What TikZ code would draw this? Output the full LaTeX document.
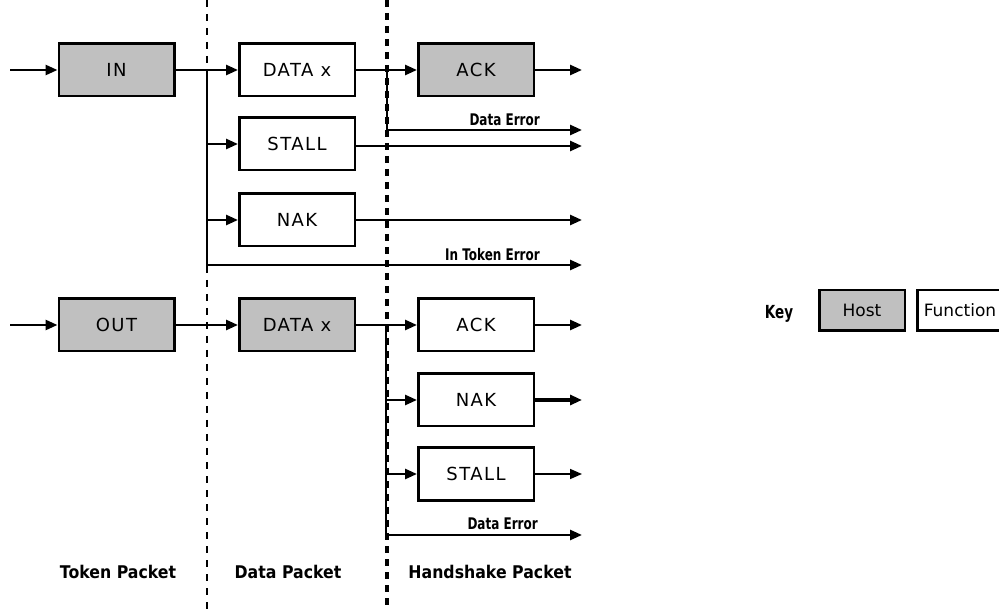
\documentclass[tikz,border=0pt]{standalone}
\usepackage{fontspec}
\setmainfont{DejaVu Sans}
\newfontfamily\boxfont[LetterSpace=8]{DejaVu Sans}
\newfontfamily\labfont[FakeStretch=0.75]{DejaVu Sans}
\newfontfamily\colfont[FakeStretch=0.9]{DejaVu Sans}
\usetikzlibrary{arrows.meta}
\definecolor{hostgray}{RGB}{192,192,192}
\begin{document}
\begin{tikzpicture}[x=1pt,y=-1pt,
  box/.style={draw, line width=2.5pt, minimum width=115.5pt, minimum height=52.5pt, inner sep=0pt, font=\boxfont\fontsize{18}{18}\selectfont},
  host/.style={box, fill=hostgray},
  fn/.style={box, fill=white},
  keybox/.style={draw, line width=2.5pt, minimum width=85.5pt, minimum height=40.5pt, inner sep=0pt, font=\fontsize{17}{17}\selectfont},
  arr/.style={line width=2.6pt, -{Triangle[length=12pt,width=10pt]}},
  lab/.style={font=\labfont\bfseries\fontsize{16}{16}\selectfont, inner sep=0pt, anchor=south east},
  col/.style={font=\colfont\bfseries\fontsize{17.5}{17.5}\selectfont, inner sep=0pt},
  sepA/.style={line width=2pt, dash pattern=on 7pt off 7pt},
  sepB/.style={line width=4pt, dash pattern=on 7pt off 6pt}]
\useasboundingbox (0,0) rectangle (999,609);
\fill[white] (0,0) rectangle (999,609);

% separators
\coordinate (s1t) at (207,0); \coordinate (s1b) at (207,609);
\coordinate (s2t) at (387,0); \coordinate (s2b) at (387,609);
\draw[sepA] (s1t) -- (s1b);
\draw[sepB] (s2t) -- (s2b);

% boxes
\node[host] (in)     at (116.5,70)  {IN};
\node[fn]   (dataA)  at (297,70)    {DATA x};
\node[fn]   (stallA) at (297,144)   {STALL};
\node[fn]   (nakA)   at (297,220)   {NAK};
\node[host] (ackA)   at (476,70)    {ACK};
\node[host] (out)    at (116.5,325) {OUT};
\node[host] (dataB)  at (297,325)   {DATA x};
\node[fn]   (ackB)   at (476,325)   {ACK};
\node[fn]   (nakB)   at (476,400)   {NAK};
\node[fn]   (stallB) at (476,474)   {STALL};

% coordinates
\coordinate (start1) at (10,70);
\coordinate (start2) at (10,325);
\coordinate (j1) at (207,70);
\coordinate (j2) at (387,70);
\coordinate (j3) at (386,325);
\coordinate (endAck) at (582,70);
\coordinate (derr1) at (582,130);
\coordinate (endStall) at (582,146);
\coordinate (endNak) at (582,220);
\coordinate (tokerr) at (582,265);
\coordinate (endAckB) at (582,325);
\coordinate (endNakB) at (582,400);
\coordinate (endStallB) at (582,474);
\coordinate (derr2) at (582,535);

% top (IN) transaction
\draw[arr] (start1) -- (in.west);
\draw[arr] (in.east) -- (dataA.west);
\draw[arr] (j1) |- (tokerr);
\draw[arr] (j1 |- stallA.west) -- (stallA.west);
\draw[arr] (j1 |- nakA.west) -- (nakA.west);
\draw[arr] (dataA.east) -- (ackA.west);
\draw[arr] (j2) |- (derr1);
\draw[arr] (ackA.east) -- (endAck);
\draw[arr] (stallA.east |- endStall) -- (endStall);
\draw[arr] (nakA.east) -- (endNak);
\node[lab] (lderr1) at (540,126) {Data Error};
\node[lab] (ltok) at (540,261) {In Token Error};

% bottom (OUT) transaction
\draw[arr] (start2) -- (out.west);
\draw[arr] (out.east) -- (dataB.west);
\draw[arr] (dataB.east) -- (ackB.west);
\draw[arr] (j3) |- (derr2);
\draw[arr] (j3 |- nakB.west) -- (nakB.west);
\draw[arr] (j3 |- stallB.west) -- (stallB.west);
\draw[arr] (ackB.east) -- (endAckB);
\draw[arr, line width=3.4pt] (nakB.east) -- (endNakB);
\draw[arr, line width=1.6pt] (stallB.east) -- (endStallB);
\node[lab] (lderr2) at (538,530) {Data Error};

% column labels
\node[col] (c1) at (118,572) {Token Packet};
\node[col] (c2) at (288,572) {Data Packet};
\node[col] (c3) at (490,572) {Handshake Packet};

% key
\node[font=\labfont\bfseries\fontsize{18}{18}\selectfont, inner sep=0pt] (key) at (779,314) {Key};
\node[keybox, fill=hostgray] (khost) at (862,310.5) {Host};
\node[keybox, fill=white] (kfn) at (960,310.5) {Function};
\end{tikzpicture}
\end{document}
